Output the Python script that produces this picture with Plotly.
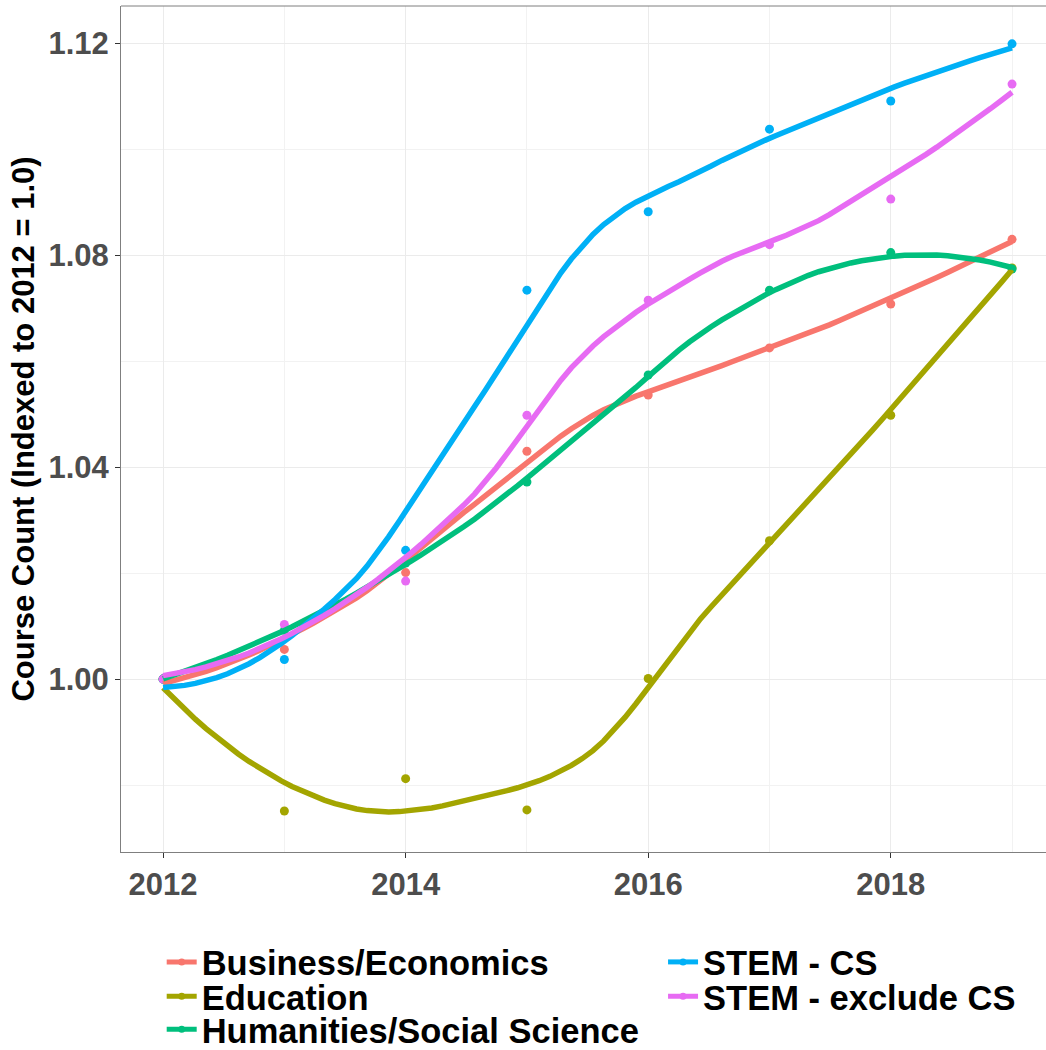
import numpy as np
import plotly.graph_objects as go

# Course counts indexed to 2012 = 1.0, by subject area
years = [2012, 2013, 2014, 2015, 2016, 2017, 2018, 2019]

business = [1.0000, 1.0056, 1.0201, 1.0430, 1.0536, 1.0625, 1.0708, 1.0830]
education = [1.0000, 0.9751, 0.9812, 0.9753, 1.0001, 1.0261, 1.0498, 1.0776]
humanities = [1.0000, 1.0092, 1.0219, 1.0372, 1.0574, 1.0734, 1.0805, 1.0774]
stem_cs = [1.0000, 1.0037, 1.0243, 1.0734, 1.0882, 1.1038, 1.1091, 1.1199]
stem_ex = [1.0000, 1.0103, 1.0185, 1.0498, 1.0715, 1.0820, 1.0906, 1.1123]

series_names = [
    "Business/Economics",
    "Education",
    "Humanities/Social Science",
    "STEM - CS",
    "STEM - exclude CS",
]
series_values = [business, education, humanities, stem_cs, stem_ex]
series_colors = ["#F8766D", "#A3A500", "#00BF7D", "#00B0F6", "#E76BF3"]

y_tick_vals = [1.00, 1.04, 1.08, 1.12]
y_tick_text = ["1.00", "1.04", "1.08", "1.12"]
x_tick_vals = [2012, 2014, 2016, 2018]


def local_fit(x, y, x0, q):
    """Weighted local quadratic fit at x0; returns value and slope."""
    d = np.abs(x - x0)
    h = np.sort(d)[q - 1]
    u = np.clip(d / h, 0, 1)
    w = (1 - u ** 3) ** 3
    X = np.vstack([np.ones_like(x), x - x0, (x - x0) ** 2]).T
    W = np.diag(w)
    beta = np.linalg.pinv(X.T @ W @ X) @ (X.T @ W @ y)
    return beta[0], beta[1]


def kd_vertices(x, fc):
    """Split points at medians until each cell holds at most fc points."""
    lo, hi = x.min(), x.max()
    mu = 0.005 * (hi - lo)
    verts = {lo - mu, hi + mu}

    def split(pts):
        if len(pts) <= fc:
            return
        m = len(pts) // 2
        if len(pts) % 2 == 0:
            v = (pts[m - 1] + pts[m]) / 2
        else:
            v = pts[m]
        verts.add(v)
        split(pts[pts < v] if len(pts) % 2 == 0 else pts[pts <= v][:-1])
        split(pts[pts > v])

    split(np.sort(x))
    return np.array(sorted(verts))


def loess(x, y, xs, span=0.75, cell=0.2):
    """Loess (degree 2) evaluated on a kd vertex grid with cubic Hermite
    interpolation between vertices."""
    x = np.asarray(x, float)
    y = np.asarray(y, float)
    n = len(x)
    q = int(np.floor(n * span))
    fc = max(1, int(np.floor(n * span * cell)))
    vs = kd_vertices(x, fc)
    fits = [local_fit(x, y, v, q) for v in vs]
    vals = np.array([f[0] for f in fits])
    slopes = np.array([f[1] for f in fits])
    out = []
    for x0 in xs:
        i = np.searchsorted(vs, x0) - 1
        i = min(max(i, 0), len(vs) - 2)
        h = vs[i + 1] - vs[i]
        t = (x0 - vs[i]) / h
        h00 = 2 * t ** 3 - 3 * t ** 2 + 1
        h10 = t ** 3 - 2 * t ** 2 + t
        h01 = -2 * t ** 3 + 3 * t ** 2
        h11 = t ** 3 - t ** 2
        out.append(h00 * vals[i] + h10 * h * slopes[i]
                   + h01 * vals[i + 1] + h11 * h * slopes[i + 1])
    return np.array(out)


xs = np.linspace(min(years), max(years), 80)

fig = go.Figure()

# observed points
for name, vals, col in zip(series_names, series_values, series_colors):
    fig.add_trace(go.Scatter(
        x=years, y=vals, mode="markers", name=name,
        marker=dict(color=col, size=9), showlegend=False,
        hoverinfo="skip",
    ))

# smoothed trends
for name, vals, col in zip(series_names, series_values, series_colors):
    fig.add_trace(go.Scatter(
        x=xs, y=loess(years, vals, xs), mode="lines", name=name,
        line=dict(color=col, width=5.5), showlegend=False,
    ))

# legend keys, first column three entries, second column two
legend_ids = ["legend", "legend2", "legend3", "legend4", "legend5"]
for name, col, lid in zip(series_names, series_colors, legend_ids):
    fig.add_trace(go.Scatter(
        x=[None], y=[None], mode="lines+markers", name=name,
        line=dict(color=col, width=5), marker=dict(color=col, size=7),
        legend=lid, showlegend=True,
    ))

legend_font = dict(family="Liberation Sans, Arial, sans-serif", size=34.5,
                   color="black", weight="bold")
legend_pos = [(0.044, -0.1300), (0.044, -0.1706), (0.044, -0.2096),
              (0.586, -0.1300), (0.586, -0.1706)]
legend_layout = {}
for lid, (lx, ly) in zip(legend_ids, legend_pos):
    legend_layout[lid] = dict(
        x=lx, y=ly, xanchor="left", yanchor="middle",
        font=legend_font, bgcolor="rgba(0,0,0,0)", itemwidth=30,
        borderwidth=0,
    )

tick_font = dict(family="Liberation Sans, Arial, sans-serif", size=31,
                 color="#4D4D4D", weight="bold")

fig.update_layout(
    width=1046, height=1050,
    margin=dict(l=121, r=0, t=6, b=198, autoexpand=False),
    paper_bgcolor="white", plot_bgcolor="white",
    **legend_layout,
)

fig.update_xaxes(
    range=[2011.653, 2019.28],
    tickvals=x_tick_vals, ticktext=[str(v) for v in x_tick_vals],
    tickfont=tick_font,
    ticks="outside", ticklen=5, tickcolor="#333333", tickwidth=1,
    showgrid=True, gridcolor="#EBEBEB", gridwidth=1.2,
    minor=dict(dtick=1, showgrid=True, gridcolor="#F2F2F2", gridwidth=0.8),
    showline=True, linecolor="#7F7F7F", linewidth=1, mirror=False,
    zeroline=False,
)
fig.update_yaxes(
    range=[0.96736, 1.12704],
    tickvals=y_tick_vals, ticktext=y_tick_text,
    tickfont=tick_font,
    ticks="outside", ticklen=5, tickcolor="#333333", tickwidth=1,
    showgrid=True, gridcolor="#EBEBEB", gridwidth=1.2,
    minor=dict(dtick=0.02, tick0=1.0, showgrid=True, gridcolor="#F2F2F2",
               gridwidth=0.8),
    showline=True, linecolor="#7F7F7F", linewidth=1,
    zeroline=False,
    title=dict(text="Course Count (Indexed to 2012 = 1.0)",
               font=dict(family="Liberation Sans, Arial, sans-serif", size=31,
                         color="black", weight="bold"),
               standoff=4),
)

# top border of the panel
fig.add_shape(type="line", xref="paper", yref="paper", x0=0, x1=1, y0=1, y1=1,
              line=dict(color="#7F7F7F", width=1))

fig.write_html("out.html")
